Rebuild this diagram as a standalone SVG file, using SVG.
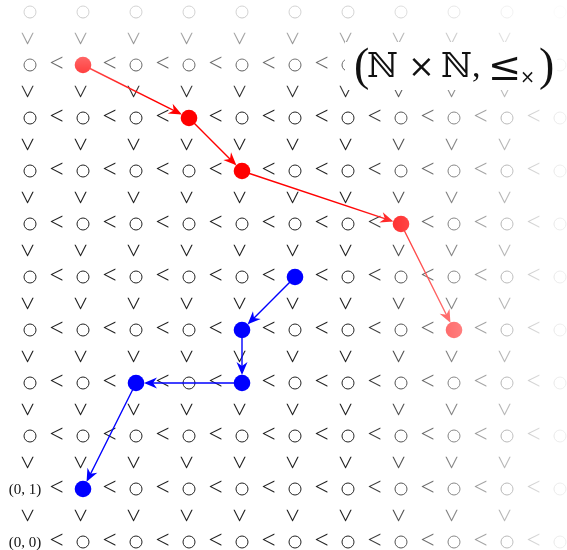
<svg xmlns="http://www.w3.org/2000/svg" xmlns:xlink="http://www.w3.org/1999/xlink" width="567" height="550" viewBox="0 0 567 550">
<style>
.c{fill:none;stroke:#222;stroke-width:1}
.lt{font-family:"Liberation Serif","DejaVu Serif",serif;font-size:25px;text-anchor:middle;fill:#222}
.lbl{font-family:"Liberation Serif","DejaVu Serif",serif;font-size:15px;text-anchor:middle;fill:#111}
.red line{stroke:#ff0000;stroke-width:1.4;marker-end:url(#ar)}
.blue line{stroke:#0000ff;stroke-width:1.4;marker-end:url(#ab)}
.rn{fill:#ff0000}
.bn{fill:#0000ff}
.title{font-family:"Liberation Serif","DejaVu Serif",serif;fill:#111}
.bb{font-family:"DejaVu Serif","DejaVu Sans",serif}
</style>
<defs>
<circle id="o" r="6" class="c"/>
<marker id="ar" markerUnits="userSpaceOnUse" viewBox="-15 -7 17 14" refX="-2" refY="0" markerWidth="17" markerHeight="14" orient="auto"><path d="M0,0 L-13,-5.5 L-9,0 L-13,5.5 Z" fill="#ff0000"/></marker>
<marker id="ab" markerUnits="userSpaceOnUse" viewBox="-15 -7 17 14" refX="-2" refY="0" markerWidth="17" markerHeight="14" orient="auto"><path d="M0,0 L-13,-5.5 L-9,0 L-13,5.5 Z" fill="#0000ff"/></marker>
<linearGradient id="gx" gradientUnits="userSpaceOnUse" x1="348" y1="0" x2="560" y2="0"><stop offset="0" stop-color="#fff" stop-opacity="1"/><stop offset="1" stop-color="#fff" stop-opacity="0.08"/></linearGradient>
<linearGradient id="gy" gradientUnits="userSpaceOnUse" x1="0" y1="100" x2="0" y2="13"><stop offset="0" stop-color="#fff" stop-opacity="1"/><stop offset="1" stop-color="#fff" stop-opacity="0.2"/></linearGradient>
<mask id="mx" maskUnits="userSpaceOnUse" x="0" y="0" width="567" height="550"><rect width="567" height="550" fill="url(#gx)"/></mask>
<mask id="my" maskUnits="userSpaceOnUse" x="0" y="0" width="567" height="550"><rect width="567" height="550" fill="url(#gy)"/></mask>
</defs>
<rect width="567" height="550" fill="#fff"/>
<g mask="url(#mx)">
<g mask="url(#my)">
<g id="grid">
<!-- row 10 -->
<use href="#o" x="30" y="12"/><use href="#o" x="83" y="12"/><use href="#o" x="136" y="12"/><use href="#o" x="189" y="12"/><use href="#o" x="242" y="12"/><use href="#o" x="295" y="12"/><use href="#o" x="348" y="12"/><use href="#o" x="401" y="12"/><use href="#o" x="454" y="12"/><use href="#o" x="507" y="12"/><use href="#o" x="560" y="12"/>
<!-- row 9 -->
<use href="#o" x="30" y="65"/><use href="#o" x="136" y="65"/><use href="#o" x="189" y="65"/><use href="#o" x="242" y="65"/><use href="#o" x="295" y="65"/><use href="#o" x="348" y="65"/><use href="#o" x="560" y="65"/>
<!-- row 8 -->
<use href="#o" x="30" y="118"/><use href="#o" x="83" y="118"/><use href="#o" x="136" y="118"/><use href="#o" x="242" y="118"/><use href="#o" x="295" y="118"/><use href="#o" x="348" y="118"/><use href="#o" x="401" y="118"/><use href="#o" x="454" y="118"/><use href="#o" x="507" y="118"/><use href="#o" x="560" y="118"/>
<!-- row 7 -->
<use href="#o" x="30" y="171"/><use href="#o" x="83" y="171"/><use href="#o" x="136" y="171"/><use href="#o" x="189" y="171"/><use href="#o" x="295" y="171"/><use href="#o" x="348" y="171"/><use href="#o" x="401" y="171"/><use href="#o" x="454" y="171"/><use href="#o" x="507" y="171"/><use href="#o" x="560" y="171"/>
<!-- row 6 -->
<use href="#o" x="30" y="224"/><use href="#o" x="83" y="224"/><use href="#o" x="136" y="224"/><use href="#o" x="189" y="224"/><use href="#o" x="242" y="224"/><use href="#o" x="295" y="224"/><use href="#o" x="348" y="224"/><use href="#o" x="454" y="224"/><use href="#o" x="507" y="224"/><use href="#o" x="560" y="224"/>
<!-- row 5 -->
<use href="#o" x="30" y="277"/><use href="#o" x="83" y="277"/><use href="#o" x="136" y="277"/><use href="#o" x="189" y="277"/><use href="#o" x="242" y="277"/><use href="#o" x="348" y="277"/><use href="#o" x="401" y="277"/><use href="#o" x="454" y="277"/><use href="#o" x="507" y="277"/><use href="#o" x="560" y="277"/>
<!-- row 4 -->
<use href="#o" x="30" y="330"/><use href="#o" x="83" y="330"/><use href="#o" x="136" y="330"/><use href="#o" x="189" y="330"/><use href="#o" x="295" y="330"/><use href="#o" x="348" y="330"/><use href="#o" x="401" y="330"/><use href="#o" x="507" y="330"/><use href="#o" x="560" y="330"/>
<!-- row 3 -->
<use href="#o" x="30" y="383"/><use href="#o" x="83" y="383"/><use href="#o" x="189" y="383"/><use href="#o" x="295" y="383"/><use href="#o" x="348" y="383"/><use href="#o" x="401" y="383"/><use href="#o" x="454" y="383"/><use href="#o" x="507" y="383"/><use href="#o" x="560" y="383"/>
<!-- row 2 -->
<use href="#o" x="30" y="436"/><use href="#o" x="83" y="436"/><use href="#o" x="136" y="436"/><use href="#o" x="189" y="436"/><use href="#o" x="242" y="436"/><use href="#o" x="295" y="436"/><use href="#o" x="348" y="436"/><use href="#o" x="401" y="436"/><use href="#o" x="454" y="436"/><use href="#o" x="507" y="436"/><use href="#o" x="560" y="436"/>
<!-- row 1 -->
<use href="#o" x="136" y="489"/><use href="#o" x="189" y="489"/><use href="#o" x="242" y="489"/><use href="#o" x="295" y="489"/><use href="#o" x="348" y="489"/><use href="#o" x="401" y="489"/><use href="#o" x="454" y="489"/><use href="#o" x="507" y="489"/><use href="#o" x="560" y="489"/>
<!-- row 0 -->
<use href="#o" x="83" y="542"/><use href="#o" x="136" y="542"/><use href="#o" x="189" y="542"/><use href="#o" x="242" y="542"/><use href="#o" x="295" y="542"/><use href="#o" x="348" y="542"/><use href="#o" x="401" y="542"/><use href="#o" x="454" y="542"/><use href="#o" x="507" y="542"/><use href="#o" x="560" y="542"/>
</g>
<g id="less-than">
<text class="lt" x="56.5" y="71">&lt;</text><text class="lt" x="109.5" y="71">&lt;</text><text class="lt" x="162.5" y="71">&lt;</text><text class="lt" x="215.5" y="71">&lt;</text><text class="lt" x="268.5" y="71">&lt;</text><text class="lt" x="321.5" y="71">&lt;</text>
<text class="lt" x="56.5" y="124">&lt;</text><text class="lt" x="109.5" y="124">&lt;</text><text class="lt" x="162.5" y="124">&lt;</text><text class="lt" x="215.5" y="124">&lt;</text><text class="lt" x="268.5" y="124">&lt;</text><text class="lt" x="321.5" y="124">&lt;</text><text class="lt" x="374.5" y="124">&lt;</text><text class="lt" x="427.5" y="124">&lt;</text><text class="lt" x="480.5" y="124">&lt;</text><text class="lt" x="533.5" y="124">&lt;</text>
<text class="lt" x="56.5" y="177">&lt;</text><text class="lt" x="109.5" y="177">&lt;</text><text class="lt" x="162.5" y="177">&lt;</text><text class="lt" x="215.5" y="177">&lt;</text><text class="lt" x="268.5" y="177">&lt;</text><text class="lt" x="321.5" y="177">&lt;</text><text class="lt" x="374.5" y="177">&lt;</text><text class="lt" x="427.5" y="177">&lt;</text><text class="lt" x="480.5" y="177">&lt;</text><text class="lt" x="533.5" y="177">&lt;</text>
<text class="lt" x="56.5" y="230">&lt;</text><text class="lt" x="109.5" y="230">&lt;</text><text class="lt" x="162.5" y="230">&lt;</text><text class="lt" x="215.5" y="230">&lt;</text><text class="lt" x="268.5" y="230">&lt;</text><text class="lt" x="321.5" y="230">&lt;</text><text class="lt" x="374.5" y="230">&lt;</text><text class="lt" x="427.5" y="230">&lt;</text><text class="lt" x="480.5" y="230">&lt;</text><text class="lt" x="533.5" y="230">&lt;</text>
<text class="lt" x="56.5" y="283">&lt;</text><text class="lt" x="109.5" y="283">&lt;</text><text class="lt" x="162.5" y="283">&lt;</text><text class="lt" x="215.5" y="283">&lt;</text><text class="lt" x="268.5" y="283">&lt;</text><text class="lt" x="321.5" y="283">&lt;</text><text class="lt" x="374.5" y="283">&lt;</text><text class="lt" x="427.5" y="283">&lt;</text><text class="lt" x="480.5" y="283">&lt;</text><text class="lt" x="533.5" y="283">&lt;</text>
<text class="lt" x="56.5" y="336">&lt;</text><text class="lt" x="109.5" y="336">&lt;</text><text class="lt" x="162.5" y="336">&lt;</text><text class="lt" x="215.5" y="336">&lt;</text><text class="lt" x="268.5" y="336">&lt;</text><text class="lt" x="321.5" y="336">&lt;</text><text class="lt" x="374.5" y="336">&lt;</text><text class="lt" x="427.5" y="336">&lt;</text><text class="lt" x="480.5" y="336">&lt;</text><text class="lt" x="533.5" y="336">&lt;</text>
<text class="lt" x="56.5" y="389">&lt;</text><text class="lt" x="109.5" y="389">&lt;</text><text class="lt" x="162.5" y="389">&lt;</text><text class="lt" x="215.5" y="389">&lt;</text><text class="lt" x="268.5" y="389">&lt;</text><text class="lt" x="321.5" y="389">&lt;</text><text class="lt" x="374.5" y="389">&lt;</text><text class="lt" x="427.5" y="389">&lt;</text><text class="lt" x="480.5" y="389">&lt;</text><text class="lt" x="533.5" y="389">&lt;</text>
<text class="lt" x="56.5" y="442">&lt;</text><text class="lt" x="109.5" y="442">&lt;</text><text class="lt" x="162.5" y="442">&lt;</text><text class="lt" x="215.5" y="442">&lt;</text><text class="lt" x="268.5" y="442">&lt;</text><text class="lt" x="321.5" y="442">&lt;</text><text class="lt" x="374.5" y="442">&lt;</text><text class="lt" x="427.5" y="442">&lt;</text><text class="lt" x="480.5" y="442">&lt;</text><text class="lt" x="533.5" y="442">&lt;</text>
<text class="lt" x="56.5" y="495">&lt;</text><text class="lt" x="109.5" y="495">&lt;</text><text class="lt" x="162.5" y="495">&lt;</text><text class="lt" x="215.5" y="495">&lt;</text><text class="lt" x="268.5" y="495">&lt;</text><text class="lt" x="321.5" y="495">&lt;</text><text class="lt" x="374.5" y="495">&lt;</text><text class="lt" x="427.5" y="495">&lt;</text><text class="lt" x="480.5" y="495">&lt;</text><text class="lt" x="533.5" y="495">&lt;</text>
<text class="lt" x="56.5" y="548">&lt;</text><text class="lt" x="109.5" y="548">&lt;</text><text class="lt" x="162.5" y="548">&lt;</text><text class="lt" x="215.5" y="548">&lt;</text><text class="lt" x="268.5" y="548">&lt;</text><text class="lt" x="321.5" y="548">&lt;</text><text class="lt" x="374.5" y="548">&lt;</text><text class="lt" x="427.5" y="548">&lt;</text><text class="lt" x="480.5" y="548">&lt;</text><text class="lt" x="533.5" y="548">&lt;</text>
</g>
<g id="vertical-order">
<text class="lt" x="30" y="44.5" transform="rotate(-90 30 38.5)">&lt;</text><text class="lt" x="83" y="44.5" transform="rotate(-90 83 38.5)">&lt;</text><text class="lt" x="136" y="44.5" transform="rotate(-90 136 38.5)">&lt;</text><text class="lt" x="189" y="44.5" transform="rotate(-90 189 38.5)">&lt;</text><text class="lt" x="242" y="44.5" transform="rotate(-90 242 38.5)">&lt;</text><text class="lt" x="295" y="44.5" transform="rotate(-90 295 38.5)">&lt;</text><text class="lt" x="348" y="44.5" transform="rotate(-90 348 38.5)">&lt;</text><text class="lt" x="401" y="44.5" transform="rotate(-90 401 38.5)">&lt;</text><text class="lt" x="454" y="44.5" transform="rotate(-90 454 38.5)">&lt;</text><text class="lt" x="507" y="44.5" transform="rotate(-90 507 38.5)">&lt;</text>
<text class="lt" x="30" y="97.5" transform="rotate(-90 30 91.5)">&lt;</text><text class="lt" x="83" y="97.5" transform="rotate(-90 83 91.5)">&lt;</text><text class="lt" x="136" y="97.5" transform="rotate(-90 136 91.5)">&lt;</text><text class="lt" x="189" y="97.5" transform="rotate(-90 189 91.5)">&lt;</text><text class="lt" x="242" y="97.5" transform="rotate(-90 242 91.5)">&lt;</text><text class="lt" x="295" y="97.5" transform="rotate(-90 295 91.5)">&lt;</text><text class="lt" x="348" y="97.5" transform="rotate(-90 348 91.5)">&lt;</text><text class="lt" x="401" y="97.5" transform="rotate(-90 401 91.5)">&lt;</text><text class="lt" x="454" y="97.5" transform="rotate(-90 454 91.5)">&lt;</text><text class="lt" x="507" y="97.5" transform="rotate(-90 507 91.5)">&lt;</text>
<text class="lt" x="30" y="150.5" transform="rotate(-90 30 144.5)">&lt;</text><text class="lt" x="83" y="150.5" transform="rotate(-90 83 144.5)">&lt;</text><text class="lt" x="136" y="150.5" transform="rotate(-90 136 144.5)">&lt;</text><text class="lt" x="189" y="150.5" transform="rotate(-90 189 144.5)">&lt;</text><text class="lt" x="242" y="150.5" transform="rotate(-90 242 144.5)">&lt;</text><text class="lt" x="295" y="150.5" transform="rotate(-90 295 144.5)">&lt;</text><text class="lt" x="348" y="150.5" transform="rotate(-90 348 144.5)">&lt;</text><text class="lt" x="401" y="150.5" transform="rotate(-90 401 144.5)">&lt;</text><text class="lt" x="454" y="150.5" transform="rotate(-90 454 144.5)">&lt;</text><text class="lt" x="507" y="150.5" transform="rotate(-90 507 144.5)">&lt;</text>
<text class="lt" x="30" y="203.5" transform="rotate(-90 30 197.5)">&lt;</text><text class="lt" x="83" y="203.5" transform="rotate(-90 83 197.5)">&lt;</text><text class="lt" x="136" y="203.5" transform="rotate(-90 136 197.5)">&lt;</text><text class="lt" x="189" y="203.5" transform="rotate(-90 189 197.5)">&lt;</text><text class="lt" x="242" y="203.5" transform="rotate(-90 242 197.5)">&lt;</text><text class="lt" x="295" y="203.5" transform="rotate(-90 295 197.5)">&lt;</text><text class="lt" x="348" y="203.5" transform="rotate(-90 348 197.5)">&lt;</text><text class="lt" x="401" y="203.5" transform="rotate(-90 401 197.5)">&lt;</text><text class="lt" x="454" y="203.5" transform="rotate(-90 454 197.5)">&lt;</text><text class="lt" x="507" y="203.5" transform="rotate(-90 507 197.5)">&lt;</text>
<text class="lt" x="30" y="256.5" transform="rotate(-90 30 250.5)">&lt;</text><text class="lt" x="83" y="256.5" transform="rotate(-90 83 250.5)">&lt;</text><text class="lt" x="136" y="256.5" transform="rotate(-90 136 250.5)">&lt;</text><text class="lt" x="189" y="256.5" transform="rotate(-90 189 250.5)">&lt;</text><text class="lt" x="242" y="256.5" transform="rotate(-90 242 250.5)">&lt;</text><text class="lt" x="295" y="256.5" transform="rotate(-90 295 250.5)">&lt;</text><text class="lt" x="348" y="256.5" transform="rotate(-90 348 250.5)">&lt;</text><text class="lt" x="401" y="256.5" transform="rotate(-90 401 250.5)">&lt;</text><text class="lt" x="454" y="256.5" transform="rotate(-90 454 250.5)">&lt;</text><text class="lt" x="507" y="256.5" transform="rotate(-90 507 250.5)">&lt;</text>
<text class="lt" x="30" y="309.5" transform="rotate(-90 30 303.5)">&lt;</text><text class="lt" x="83" y="309.5" transform="rotate(-90 83 303.5)">&lt;</text><text class="lt" x="136" y="309.5" transform="rotate(-90 136 303.5)">&lt;</text><text class="lt" x="189" y="309.5" transform="rotate(-90 189 303.5)">&lt;</text><text class="lt" x="242" y="309.5" transform="rotate(-90 242 303.5)">&lt;</text><text class="lt" x="295" y="309.5" transform="rotate(-90 295 303.5)">&lt;</text><text class="lt" x="348" y="309.5" transform="rotate(-90 348 303.5)">&lt;</text><text class="lt" x="401" y="309.5" transform="rotate(-90 401 303.5)">&lt;</text><text class="lt" x="454" y="309.5" transform="rotate(-90 454 303.5)">&lt;</text><text class="lt" x="507" y="309.5" transform="rotate(-90 507 303.5)">&lt;</text>
<text class="lt" x="30" y="362.5" transform="rotate(-90 30 356.5)">&lt;</text><text class="lt" x="83" y="362.5" transform="rotate(-90 83 356.5)">&lt;</text><text class="lt" x="136" y="362.5" transform="rotate(-90 136 356.5)">&lt;</text><text class="lt" x="189" y="362.5" transform="rotate(-90 189 356.5)">&lt;</text><text class="lt" x="242" y="362.5" transform="rotate(-90 242 356.5)">&lt;</text><text class="lt" x="295" y="362.5" transform="rotate(-90 295 356.5)">&lt;</text><text class="lt" x="348" y="362.5" transform="rotate(-90 348 356.5)">&lt;</text><text class="lt" x="401" y="362.5" transform="rotate(-90 401 356.5)">&lt;</text><text class="lt" x="454" y="362.5" transform="rotate(-90 454 356.5)">&lt;</text><text class="lt" x="507" y="362.5" transform="rotate(-90 507 356.5)">&lt;</text>
<text class="lt" x="30" y="415.5" transform="rotate(-90 30 409.5)">&lt;</text><text class="lt" x="83" y="415.5" transform="rotate(-90 83 409.5)">&lt;</text><text class="lt" x="136" y="415.5" transform="rotate(-90 136 409.5)">&lt;</text><text class="lt" x="189" y="415.5" transform="rotate(-90 189 409.5)">&lt;</text><text class="lt" x="242" y="415.5" transform="rotate(-90 242 409.5)">&lt;</text><text class="lt" x="295" y="415.5" transform="rotate(-90 295 409.5)">&lt;</text><text class="lt" x="348" y="415.5" transform="rotate(-90 348 409.5)">&lt;</text><text class="lt" x="401" y="415.5" transform="rotate(-90 401 409.5)">&lt;</text><text class="lt" x="454" y="415.5" transform="rotate(-90 454 409.5)">&lt;</text><text class="lt" x="507" y="415.5" transform="rotate(-90 507 409.5)">&lt;</text>
<text class="lt" x="30" y="468.5" transform="rotate(-90 30 462.5)">&lt;</text><text class="lt" x="83" y="468.5" transform="rotate(-90 83 462.5)">&lt;</text><text class="lt" x="136" y="468.5" transform="rotate(-90 136 462.5)">&lt;</text><text class="lt" x="189" y="468.5" transform="rotate(-90 189 462.5)">&lt;</text><text class="lt" x="242" y="468.5" transform="rotate(-90 242 462.5)">&lt;</text><text class="lt" x="295" y="468.5" transform="rotate(-90 295 462.5)">&lt;</text><text class="lt" x="348" y="468.5" transform="rotate(-90 348 462.5)">&lt;</text><text class="lt" x="401" y="468.5" transform="rotate(-90 401 462.5)">&lt;</text><text class="lt" x="454" y="468.5" transform="rotate(-90 454 462.5)">&lt;</text><text class="lt" x="507" y="468.5" transform="rotate(-90 507 462.5)">&lt;</text>
<text class="lt" x="30" y="521.5" transform="rotate(-90 30 515.5)">&lt;</text><text class="lt" x="83" y="521.5" transform="rotate(-90 83 515.5)">&lt;</text><text class="lt" x="136" y="521.5" transform="rotate(-90 136 515.5)">&lt;</text><text class="lt" x="189" y="521.5" transform="rotate(-90 189 515.5)">&lt;</text><text class="lt" x="242" y="521.5" transform="rotate(-90 242 515.5)">&lt;</text><text class="lt" x="295" y="521.5" transform="rotate(-90 295 515.5)">&lt;</text><text class="lt" x="348" y="521.5" transform="rotate(-90 348 515.5)">&lt;</text><text class="lt" x="401" y="521.5" transform="rotate(-90 401 515.5)">&lt;</text><text class="lt" x="454" y="521.5" transform="rotate(-90 454 515.5)">&lt;</text><text class="lt" x="507" y="521.5" transform="rotate(-90 507 515.5)">&lt;</text>
</g>
<g id="labels">
<text class="lbl" x="25" y="494">(0, 1)</text>
<text class="lbl" x="25" y="547">(0, 0)</text>
</g>
<g id="connectors">
<g class="red">
<line x1="83" y1="65" x2="180.06" y2="113.53"/>
<line x1="189" y1="118" x2="234.93" y2="163.93"/>
<line x1="242" y1="171" x2="391.51" y2="220.84"/>
<line x1="401" y1="224" x2="449.53" y2="321.06"/>
</g>
<g class="blue">
<line x1="295" y1="277" x2="249.07" y2="322.93"/>
<line x1="242" y1="330" x2="242" y2="373"/>
<line x1="242" y1="383" x2="146" y2="383"/>
<line x1="136" y1="383" x2="87.47" y2="480.06"/>
</g>
</g>
<g id="r1"><circle class="rn" cx="83" cy="65" r="8.3"/></g>
<g id="r2"><circle class="rn" cx="189" cy="118" r="8.3"/></g>
<g id="r3"><circle class="rn" cx="242" cy="171" r="8.3"/></g>
<g id="r4"><circle class="rn" cx="401" cy="224" r="8.3"/></g>
<g id="r5"><circle class="rn" cx="454" cy="330" r="8.3"/></g>
<g id="b1"><circle class="bn" cx="295" cy="277" r="8.3"/></g>
<g id="b2"><circle class="bn" cx="242" cy="330" r="8.3"/></g>
<g id="b3"><circle class="bn" cx="242" cy="383" r="8.3"/></g>
<g id="b4"><circle class="bn" cx="136" cy="383" r="8.3"/></g>
<g id="b5"><circle class="bn" cx="83" cy="489" r="8.3"/></g>
</g>
</g>
<g id="title">
<rect x="345" y="42" width="212" height="48" fill="#fff"/>
<text class="title" font-size="34" y="77"><tspan x="354" font-size="46" y="80">(</tspan><tspan class="bb" x="367" y="77">ℕ</tspan><tspan class="bb" x="408" y="77" font-size="32">×</tspan><tspan class="bb" x="441" y="77">ℕ</tspan><tspan x="472" y="77">,</tspan><tspan class="bb" x="488" y="80" font-size="40">≤</tspan><tspan class="bb" x="520" y="83" font-size="18">×</tspan><tspan x="539" font-size="46" y="80">)</tspan></text>
</g>
</svg>
